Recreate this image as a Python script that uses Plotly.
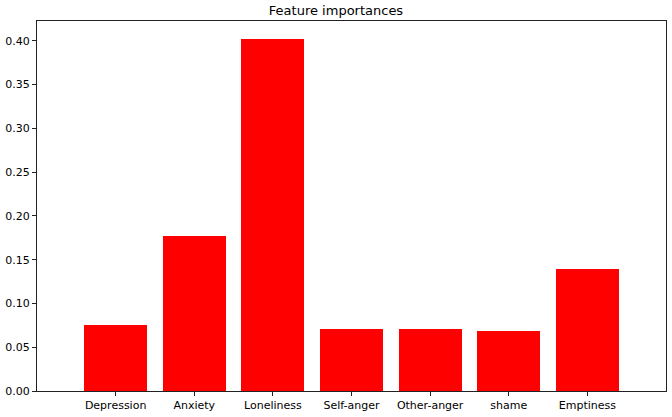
import plotly.graph_objects as go

features = ["Depression", "Anxiety", "Loneliness", "Self-anger", "Other-anger", "shame", "Emptiness"]
importances = [0.0750, 0.1768, 0.4025, 0.0703, 0.0703, 0.0682, 0.1392]

fig = go.Figure(go.Bar(
    x=list(range(len(features))), y=importances, width=0.8,
    marker=dict(color="#ff0000", line=dict(width=0)),
))

fig.update_layout(
    width=672, height=417,
    margin=dict(l=35, r=5, t=21, b=23),
    paper_bgcolor="white", plot_bgcolor="white",
    font=dict(family="DejaVu Sans", size=11, color="black"),
    title=dict(text="Feature importances", x=0.5, xanchor="center",
               y=1 - 10.5 / 417, yanchor="middle", font=dict(size=13, color="black")),
    showlegend=False,
    bargap=0,
)
fig.update_xaxes(
    range=[-1, len(features)], tickmode="array",
    tickvals=list(range(len(features))), ticktext=features,
    showline=True, linecolor="#222", linewidth=1, mirror=True,
    ticks="outside", ticklen=4, tickcolor="#222", showgrid=False, zeroline=False,
    tickfont=dict(size=11),
)
fig.update_yaxes(
    range=[0, 0.4226], dtick=0.05, tickformat=".2f",
    showline=True, linecolor="#222", linewidth=1, mirror=True,
    ticks="outside", ticklen=4, tickcolor="#222", showgrid=False, zeroline=False,
    tickfont=dict(size=11),
)

fig.write_html("out.html")
